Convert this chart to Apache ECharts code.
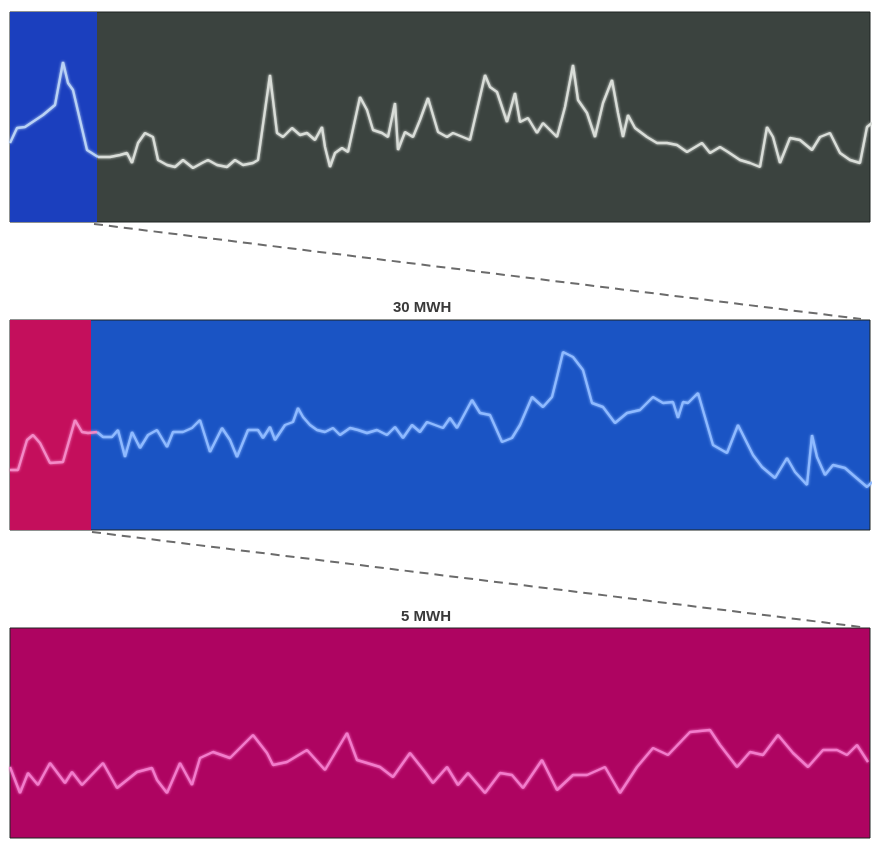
<!DOCTYPE html>
<html>
<head>
<meta charset="utf-8">
<script src="https://cdn.jsdelivr.net/npm/echarts@6/dist/echarts.min.js"></script>
<style>html,body{margin:0;padding:0;background:#fff;}#c{width:873px;height:849px;}</style>
</head>
<body>
<div id="c"></div>
<script>
// ---- data: [time, level] pairs ----
const panel1Zoom = [[0,79],[7,94],[15,95],[33,107],[45,117],[53,160],[58,139],[63,132],[77,72],[88,65]];
const panel1Rest = [[88,65],[100,65],[110,67],[117,69],[122,59],[128,79],[135,89],[143,85],[148,62],[157,57],[165,55],[173,62],[183,54],[192,59],[198,62],[207,57],[217,55],[225,62],[233,57],[243,59],[248,62],[260,147],[267,89],[273,85],[282,94],[290,87],[297,89],[305,82],[312,95],[315,75],[320,55],[325,69],[332,74],[338,70],[350,125],[357,112],[363,92],[372,89],[378,85],[385,119],[388,72],[395,90],[403,85],[410,102],[418,124],[428,90],[437,85],[443,89],[460,82],[475,147],[480,135],[487,130],[497,100],[505,129],[510,100],[518,104],[527,89],[533,99],[547,85],[555,115],[563,157],[568,122],[577,109],[585,85],[593,119],[602,142],[608,109],[613,85],[618,107],[625,94],[637,85],[647,79],[657,79],[667,77],[677,70],[692,79],[700,69],[710,75],[718,70],[730,62],[740,59],[750,55],[757,95],[763,85],[770,59],[780,84],[790,82],[802,72],[810,85],[820,89],[830,69],[840,62],[850,59],[857,95],[862,99]];
const panel2Zoom = [[0,60],[8,60],[17,90],[23,95],[30,87],[40,67],[53,68],[65,110],[72,98],[78,97],[87,98]];
const panel2Rest = [[87,98],[93,93],[102,93],[108,100],[115,73],[122,98],[130,82],[138,95],[147,100],[157,83],[163,98],[173,98],[182,102],[190,110],[200,78],[212,102],[220,90],[227,73],[238,100],[248,100],[253,92],[260,103],[265,90],[275,105],[283,108],[288,122],[293,113],[300,105],[307,100],[315,98],[323,102],[330,95],[340,102],[348,100],[357,97],[367,100],[377,95],[385,103],[393,92],[402,105],[410,98],[417,108],[425,105],[433,102],[440,112],[447,102],[462,130],[470,117],[480,115],[492,88],[502,92],[510,105],[522,133],[533,123],[542,133],[547,153],[553,178],[563,173],[573,160],[582,127],[593,123],[605,107],[617,117],[630,120],[643,133],[653,127],[663,128],[668,112],[673,128],[678,127],[688,137],[703,85],[717,77],[728,105],[743,75],[752,63],[765,52],[777,72],[785,58],[797,45],[802,95],[807,73],[815,55],[823,65],[835,62],[843,55],[857,43],[862,48]];
const panel3Series = [[0,71],[10,45],[18,65],[28,53],[40,75],[55,55],[62,66],[72,53],[93,75],[107,50],[127,66],[142,70],[147,58],[157,45],[170,75],[182,53],[190,80],[203,86],[220,80],[243,103],[257,85],[263,73],[277,76],[297,88],[315,68],[337,105],[347,78],[357,75],[370,71],[383,61],[400,85],[415,66],[423,55],[437,71],[448,53],[458,65],[475,45],[490,65],[502,63],[513,50],[532,78],[547,48],[563,63],[577,63],[595,71],[610,45],[627,71],[643,90],[658,83],[680,106],[700,108],[710,93],[727,71],[740,86],[753,83],[768,103],[783,85],[798,71],[813,88],[827,88],[837,83],[847,93],[858,76]];
const zoomEnd1 = 87;
const zoomEnd2 = 81;
const connector = [[0,1],[1,0]];
const panelLabels = ['30 MWH', '5 MWH'];

const chart = echarts.init(document.getElementById('c'));
const panelGrid = (top, bg) => ({left:10, width:860, top:top, height:210, show:true, backgroundColor:bg, borderColor:'#1e2422', borderWidth:1});
const hx = (i, max) => ({type:'value', gridIndex:i, min:0, max:max, show:false});
const hy = (i, max) => ({type:'value', gridIndex:i, min:0, max:max, show:false});
const lineS = (i, data, color, extra) => Object.assign({
  type:'line', xAxisIndex:i, yAxisIndex:i, data:data, symbol:'none', smooth:false,
  lineStyle:{color:color, width:2.4, shadowColor:color, shadowBlur:3}, z:5
}, extra || {});
const labelStyle = {fontSize:15, fontWeight:'bold', color:'#3a3a3a', fontFamily:'Liberation Sans'};

chart.setOption({
  animation:false,
  backgroundColor:'#ffffff',
  title: [
    {text:panelLabels[0], left:388, top:295, textStyle:labelStyle},
    {text:panelLabels[1], left:396, top:604, textStyle:labelStyle}
  ],
  grid: [
    panelGrid(12, '#3b433f'),
    panelGrid(320, '#1a54c4'),
    panelGrid(628, '#ae0461'),
    {left:94, right:12, top:224, height:95},
    {left:92, right:12, top:532, height:95}
  ],
  xAxis: [hx(0,860), hx(1,860), hx(2,860), hx(3,1), hx(4,1)],
  yAxis: [hy(0,210), hy(1,210), hy(2,210), hy(3,1), hy(4,1)],
  series: [
    lineS(0, panel1Rest, '#d9ddd8', {
      markArea:{silent:true, itemStyle:{color:'#1b3fbe'}, data:[[{xAxis:0},{xAxis:zoomEnd1}]]}
    }),
    lineS(0, panel1Zoom, '#b9d2f5'),
    lineS(1, panel2Rest, '#8fbaff', {
      markArea:{silent:true, itemStyle:{color:'#c40f5c'}, data:[[{xAxis:0},{xAxis:zoomEnd2}]]}
    }),
    lineS(1, panel2Zoom, '#f38ac6'),
    lineS(2, panel3Series, '#f27ccb'),
    {type:'line', xAxisIndex:3, yAxisIndex:3, data:connector, symbol:'none', lineStyle:{color:'#6b6b6b', width:2, type:[9,6]}},
    {type:'line', xAxisIndex:4, yAxisIndex:4, data:connector, symbol:'none', lineStyle:{color:'#6b6b6b', width:2, type:[9,6]}}
  ]
});
</script>
</body>
</html>
